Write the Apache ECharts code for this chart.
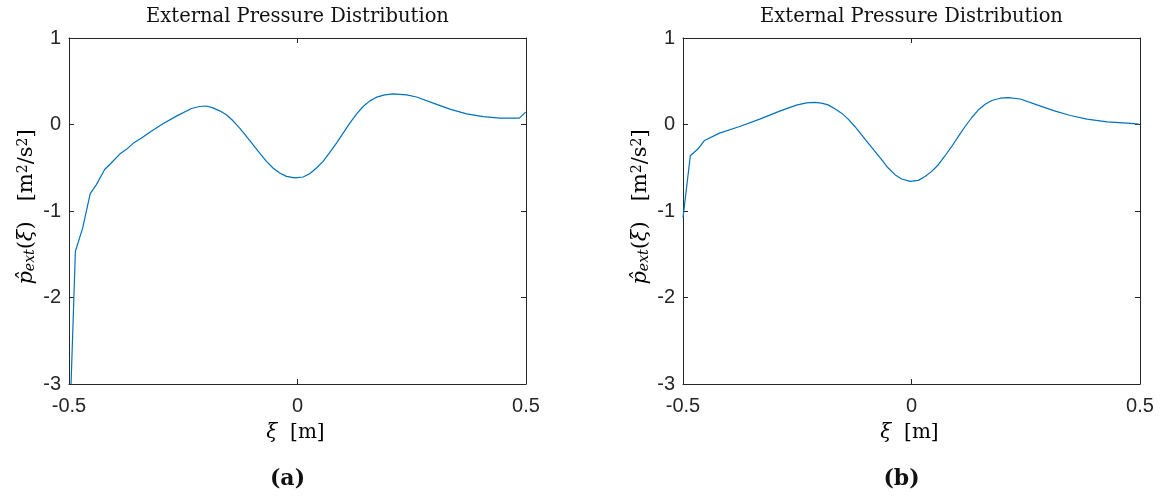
<!DOCTYPE html>
<html>
<head>
<meta charset="utf-8">
<script src="https://cdn.jsdelivr.net/npm/echarts@6/dist/echarts.min.js"></script>
<style>
html,body{margin:0;padding:0;background:#fff;}
#chart{width:1161px;height:500px;}
</style>
</head>
<body>
<div id="chart"></div>
<script>
// ---- data ----
const titleText = 'External Pressure Distribution';
const panelLabels = ['(a)', '(b)'];
const xTicks = [-0.5, 0, 0.5];
const yTicks = [-3, -2, -1, 0, 1];

const leftX = [-0.4955, -0.486, -0.470, -0.4536, -0.440, -0.422, -0.4076, -0.389, -0.375, -0.357, -0.342, -0.324,
  -0.2945, -0.265, -0.232, -0.2141, -0.200, -0.185, -0.1703, -0.1556, -0.1412, -0.1265, -0.1118, -0.0974, -0.0827,
  -0.068, -0.0536, -0.0389, -0.0242, -0.006, 0.0122, 0.0268, 0.0415, 0.056, 0.0707, 0.0853, 0.0998, 0.1145,
  0.129, 0.1436, 0.1583, 0.173, 0.1911, 0.2093, 0.2387, 0.2606, 0.297, 0.3335, 0.37, 0.4065, 0.443, 0.4853, 0.4993];
const leftY = [-3.0, -1.465, -1.195, -0.80, -0.695, -0.52, -0.445, -0.342, -0.29, -0.207, -0.16, -0.092,
  0.008, 0.097, 0.185, 0.208, 0.214, 0.192, 0.158, 0.112, 0.043, -0.042, -0.138, -0.234, -0.330,
  -0.427, -0.503, -0.561, -0.600, -0.618, -0.607, -0.569, -0.503, -0.427, -0.323, -0.215, -0.099, 0.016,
  0.12, 0.208, 0.273, 0.316, 0.343, 0.354, 0.343, 0.318, 0.247, 0.178, 0.123, 0.092, 0.074, 0.074, 0.143];

const rightX = [-0.5, -0.484, -0.4675, -0.4529, -0.42, -0.376, -0.332, -0.2884, -0.2518, -0.230, -0.2116, -0.197,
  -0.1825, -0.1678, -0.153, -0.1386, -0.124, -0.1092, -0.0947, -0.080, -0.0654, -0.0509, -0.0362, -0.0215, -0.0033,
  0.0149, 0.0296, 0.0443, 0.0588, 0.0735, 0.088, 0.1026, 0.1173, 0.132, 0.1465, 0.1612, 0.1759, 0.194, 0.2123,
  0.238, 0.2746, 0.311, 0.3476, 0.384, 0.428, 0.472, 0.4974];
const rightY = [-1.08, -0.361, -0.284, -0.184, -0.10, -0.023, 0.062, 0.154, 0.224, 0.250, 0.256, 0.247,
  0.227, 0.181, 0.131, 0.062, -0.023, -0.119, -0.215, -0.311, -0.407, -0.503, -0.58, -0.63, -0.657,
  -0.646, -0.60, -0.542, -0.465, -0.361, -0.254, -0.138, -0.023, 0.081, 0.17, 0.235, 0.277, 0.304, 0.311,
  0.295, 0.227, 0.161, 0.104, 0.062, 0.031, 0.016, 0.005];

// ---- chart ----
const axisColor = '#262626';
const lineColor = '#0072BD';
const tickFont = "'Liberation Sans', Arial, Helvetica, sans-serif";
const grids = [
  {left: 69, top: 38, width: 457, height: 346},
  {left: 683, top: 38, width: 457, height: 346}
];

function xAx(gi, pos, labels) {
  return {
    type: 'value', gridIndex: gi, position: pos,
    min: xTicks[0], max: xTicks[xTicks.length - 1], interval: 0.5,
    axisLine: {show: true, onZero: false, lineStyle: {color: axisColor, width: 1}},
    axisTick: {show: true, inside: true, length: 5, lineStyle: {color: axisColor}},
    axisLabel: {show: labels, color: axisColor, fontSize: 20, fontFamily: tickFont, margin: 12},
    splitLine: {show: false}
  };
}
function yAx(gi, pos, labels) {
  return {
    type: 'value', gridIndex: gi, position: pos,
    min: yTicks[0], max: yTicks[yTicks.length - 1], interval: 1,
    axisLine: {show: true, onZero: false, lineStyle: {color: axisColor, width: 1}},
    axisTick: {show: true, inside: true, length: 5, lineStyle: {color: axisColor}},
    axisLabel: {show: labels, color: axisColor, fontSize: 20, fontFamily: tickFont, margin: 8},
    splitLine: {show: false}
  };
}

function pairs(xs, ys) { return xs.map((x, i) => [x, ys[i]]); }

const serif = 'DejaVu Serif';
const labelColor = '#3a3a3a';
const yLabelRich = {
  i: {fontFamily: serif, fontStyle: 'italic', fontSize: 21, color: labelColor},
  sub: {fontFamily: serif, fontStyle: 'italic', fontSize: 14, color: labelColor, verticalAlign: 'bottom'},
  n: {fontFamily: serif, fontSize: 21, color: labelColor},
  sup: {fontFamily: serif, fontSize: 14, color: labelColor, verticalAlign: 'top'}
};
const yLabelText = '{i|p\u0302}{sub|ext}{n|(}{i|\u03BE}{n|)   [m}{sup|2}{n|/s}{sup|2}{n|]}';

const graphics = [];
grids.forEach((g, k) => {
  const cx = g.left + g.width / 2;
  graphics.push({
    type: 'text', x: cx, y: 17,
    style: {text: titleText, font: '19.5px "DejaVu Serif"', fill: '#111', align: 'center', verticalAlign: 'middle'}
  });
  graphics.push({
    type: 'text', x: cx - 2, y: 433,
    style: {text: '{i|\u03BE}{n|  [m]}', rich: {
      i: {fontFamily: serif, fontStyle: 'italic', fontSize: 20, color: labelColor},
      n: {fontFamily: serif, fontSize: 20, color: labelColor}
    }, align: 'center', verticalAlign: 'middle'}
  });
  graphics.push({
    type: 'text', x: g.left - 42, y: 207, rotation: Math.PI / 2,
    style: {text: yLabelText, rich: yLabelRich, align: 'center', verticalAlign: 'middle'}
  });
  graphics.push({
    type: 'text', x: cx - 10, y: 479,
    style: {text: panelLabels[k], font: 'bold 22px "DejaVu Serif"', fill: '#111', align: 'center', verticalAlign: 'middle'}
  });
});

const chart = echarts.init(document.getElementById('chart'), null, {renderer: 'canvas'});
chart.setOption({
  animation: false,
  backgroundColor: '#fff',
  grid: grids,
  xAxis: [xAx(0, 'bottom', true), xAx(0, 'top', false), xAx(1, 'bottom', true), xAx(1, 'top', false)],
  yAxis: [yAx(0, 'left', true), yAx(0, 'right', false), yAx(1, 'left', true), yAx(1, 'right', false)],
  series: [
    {type: 'line', xAxisIndex: 0, yAxisIndex: 0, data: pairs(leftX, leftY), showSymbol: false, smooth: false,
     lineStyle: {color: lineColor, width: 1.2}, itemStyle: {color: lineColor}},
    {type: 'line', xAxisIndex: 2, yAxisIndex: 2, data: pairs(rightX, rightY), showSymbol: false, smooth: false,
     lineStyle: {color: lineColor, width: 1.2}, itemStyle: {color: lineColor}}
  ],
  graphic: graphics
});
</script>
</body>
</html>
